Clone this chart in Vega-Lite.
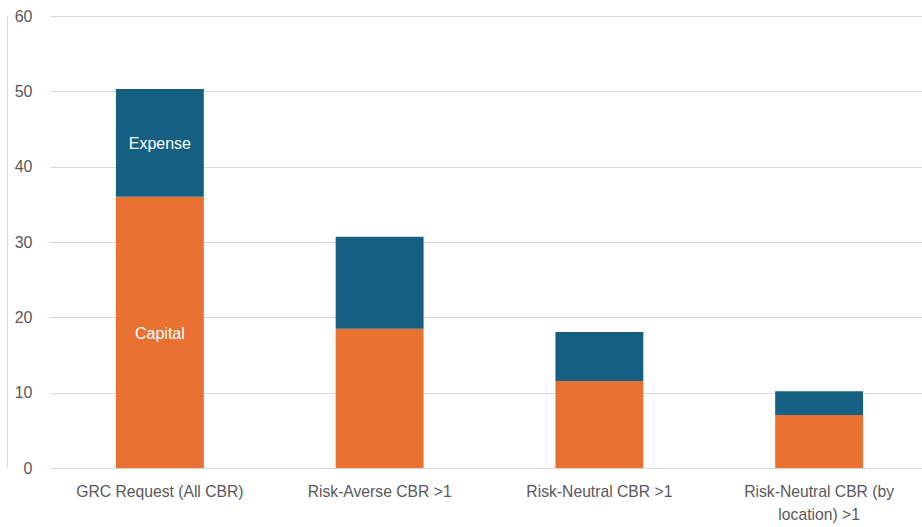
{
  "$schema": "https://vega.github.io/schema/vega-lite/v6.json",
  "width": 879,
  "height": 452,
  "autosize": {"type": "none"},
  "padding": {"left": 50, "top": 16, "right": 0, "bottom": 59},
  "background": "white",
  "config": {
    "view": {"stroke": null},
    "font": "Liberation Sans"
  },
  "data": {
    "values": [
      {"category": "GRC Request (All CBR)", "type": "Capital", "value": 36.0, "ord": 1},
      {"category": "GRC Request (All CBR)", "type": "Expense", "value": 14.3, "ord": 2},
      {"category": "Risk-Averse CBR >1", "type": "Capital", "value": 18.5, "ord": 1},
      {"category": "Risk-Averse CBR >1", "type": "Expense", "value": 12.2, "ord": 2},
      {"category": "Risk-Neutral CBR >1", "type": "Capital", "value": 11.55, "ord": 1},
      {"category": "Risk-Neutral CBR >1", "type": "Expense", "value": 6.5, "ord": 2},
      {"category": "Risk-Neutral CBR (by location) >1", "type": "Capital", "value": 7.05, "ord": 1},
      {"category": "Risk-Neutral CBR (by location) >1", "type": "Expense", "value": 3.15, "ord": 2}
    ]
  },
  "transform": [
    {"stack": "value", "groupby": ["category"], "sort": [{"field": "ord"}], "as": ["v0", "v1"]}
  ],
  "layer": [
    {
      "mark": {"type": "bar"},
      "encoding": {
        "x": {
          "field": "category",
          "type": "nominal",
          "sort": null,
          "scale": {"paddingInner": 0.6, "paddingOuter": 0.3},
          "axis": {
            "title": null,
            "labelAngle": 0,
            "ticks": false,
            "domain": false,
            "labelFontSize": 15.7,
            "labelColor": "#595959",
            "labelPadding": 16,
            "labelLimit": 300,
            "labelLineHeight": 23,
            "labelExpr": "datum.label == 'Risk-Neutral CBR (by location) >1' ? ['Risk-Neutral CBR (by', 'location) >1'] : datum.label"
          }
        },
        "y": {
          "field": "v0",
          "type": "quantitative",
          "scale": {"domain": [0, 60]},
          "axis": {
            "title": null,
            "values": [0, 10, 20, 30, 40, 50, 60],
            "ticks": false,
            "domain": true,
            "domainColor": "#d9d9d9",
            "offset": 43,
            "labelPadding": -25,
            "labelFontSize": 16,
            "labelColor": "#595959",
            "gridColor": "#d9d9d9",
            "grid": true
          }
        },
        "y2": {"field": "v1"},
        "color": {
          "field": "type",
          "type": "nominal",
          "scale": {"domain": ["Capital", "Expense"], "range": ["#E97132", "#156082"]},
          "legend": null
        }
      }
    },
    {
      "transform": [
        {"filter": "datum.category == 'GRC Request (All CBR)'"},
        {"calculate": "(datum.v0 + datum.v1) / 2", "as": "mid"}
      ],
      "mark": {"type": "text", "color": "white", "fontSize": 16, "baseline": "middle", "dy": 1.5},
      "encoding": {
        "x": {"field": "category", "type": "nominal", "sort": null},
        "y": {"field": "mid", "type": "quantitative"},
        "text": {"field": "type"}
      }
    }
  ]
}
